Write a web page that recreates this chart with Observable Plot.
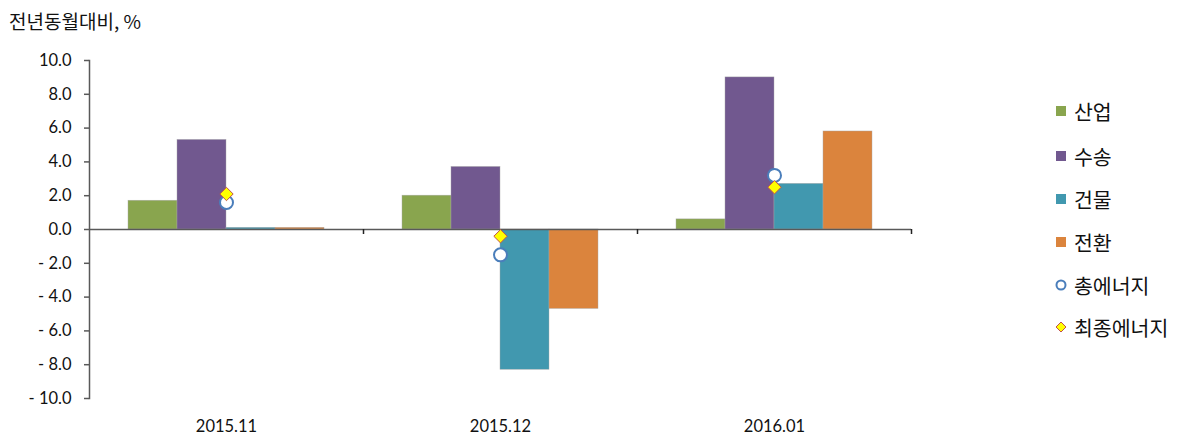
<!DOCTYPE html>
<html>
<head>
<meta charset="utf-8">
<script src="https://cdn.jsdelivr.net/npm/d3@7"></script>
<script src="https://cdn.jsdelivr.net/npm/@observablehq/plot@0.6"></script>
<style>
  body { margin: 0; background: #fff; }
  #wrap { position: relative; width: 1200px; height: 440px; font-family: "Noto Sans CJK KR", "Noto Sans", sans-serif; }
  #title { position: absolute; left: 9px; top: 7px; font-size: 19px; color: #111; }
  .leg { position: absolute; left: 1054px; display: flex; align-items: center; font-size: 20.5px; color: #111; height: 28px; }
  .leg svg { margin-right: 6px; }
</style>
</head>
<body>
<div id="wrap">
  <div id="chart"></div>
  <div id="title">전년동월대비, %</div>
  <div id="legend"></div>
</div>
<script>
const periods = ["2015.11", "2015.12", "2016.01"];
const series = ["산업", "수송", "건물", "전환"];
const industry = [1.7, 2.0, 0.6];
const transport = [5.3, 3.7, 9.0];
const building = [0.1, -8.3, 2.7];
const conversion = [0.1, -4.7, 5.8];
const totalEnergy = [1.6, -1.5, 3.2];
const finalEnergy = [2.1, -0.4, 2.5];
const yTicks = [-10, -8, -6, -4, -2, 0, 2, 4, 6, 8, 10];
const colors = ["#89a54e", "#71588f", "#4198af", "#db843d"];

const seriesValues = [industry, transport, building, conversion];
const bars = [];
periods.forEach((p, i) => series.forEach((s, j) => bars.push({period: p, series: s, value: seriesValues[j][i]})));
const total = periods.map((p, i) => ({period: p, value: totalEnergy[i]}));
const final = periods.map((p, i) => ({period: p, value: finalEnergy[i]}));

const fmt = d => d < 0 ? "- " + Math.abs(d).toFixed(1) : d.toFixed(1);
const W = 1200, ML = 89, MR = 289;
const facetW = (W - ML - MR) / periods.length;

const chart = Plot.plot({
  width: W,
  height: 440,
  marginLeft: ML,
  marginRight: MR,
  marginTop: 60,
  marginBottom: 42,
  style: {fontFamily: "Lato, 'Noto Sans', sans-serif", fontSize: "15px", color: "#111"},
  fx: {domain: periods, padding: 0, label: null},
  x: {domain: series, paddingInner: 0, paddingOuter: 0.74, axis: null},
  y: {domain: [-10, 10], label: null},
  color: {domain: series, range: colors},
  marks: [
    Plot.barY(bars, {fx: "period", x: "series", y: "value", fill: "series", stroke: "#a6a6a6", strokeWidth: 0.6, strokeOpacity: 0.7}),
    Plot.ruleY([0], {stroke: "#595959", strokeWidth: 1.5}),
    Plot.frame({anchor: "left", facetAnchor: "left", stroke: "#595959", strokeWidth: 1.5}),
    Plot.ruleX(periods, {fx: d => d, x: null, y1: 0, y2: 0, insetBottom: -5, dx: facetW / 2, stroke: "#222", strokeWidth: 1.5}),
    Plot.axisY({ticks: yTicks, tickFormat: fmt, tickSize: 5, tickPadding: 13, stroke: "#595959", strokeWidth: 1.5, fontSize: 16.5}),
    Plot.axisFx({anchor: "bottom", tickSize: 0, tickPadding: 22, fontSize: 16.5, label: null}),
    Plot.dot(total, {fx: "period", y: "value", r: 6.5, fill: "white", stroke: "#4a7ebb", strokeWidth: 2}),
    Plot.dot(final, {fx: "period", y: "value", symbol: "diamond2", r: 6, fill: "#ffff00", stroke: "#c0504d", strokeWidth: 1})
  ]
});
document.getElementById("chart").append(chart);

// legend
const legend = document.getElementById("legend");
const legendCenters = [111, 156, 199, 242, 285, 327];
const items = series.map((s, i) => ({label: s, kind: "rect", color: colors[i]}))
  .concat([{label: "총에너지", kind: "circle"}, {label: "최종에너지", kind: "diamond"}]);
items.forEach((it, i) => {
  const div = document.createElement("div");
  div.className = "leg";
  div.style.top = (legendCenters[i] - 14) + "px";
  let sw;
  if (it.kind === "rect") sw = `<svg width="14" height="14"><rect x="2" y="2" width="10" height="10" fill="${it.color}"/></svg>`;
  else if (it.kind === "circle") sw = `<svg width="14" height="14"><circle cx="7" cy="7" r="4.5" fill="white" stroke="#4a7ebb" stroke-width="2"/></svg>`;
  else sw = `<svg width="14" height="14"><path d="M7,2L12,7L7,12L2,7Z" fill="#ffff00" stroke="#c0504d" stroke-width="1"/></svg>`;
  div.innerHTML = sw + `<span>${it.label}</span>`;
  legend.append(div);
});
</script>
</body>
</html>
